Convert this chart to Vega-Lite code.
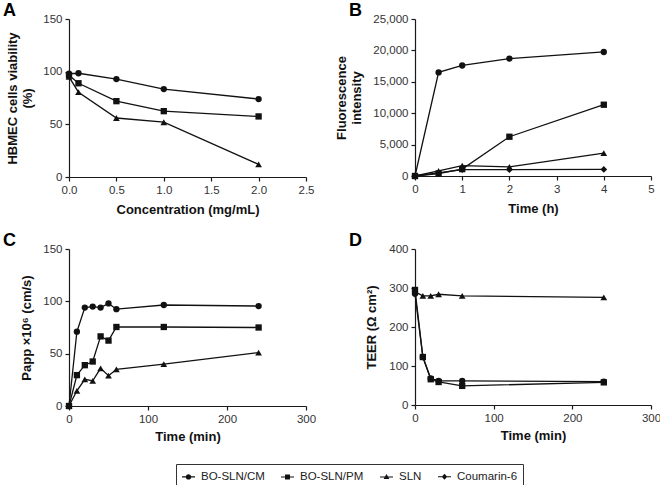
{
  "$schema": "https://vega.github.io/schema/vega-lite/v6.json",
  "autosize": {"type": "pad"},
  "padding": {"left": 3, "top": 2, "right": 0, "bottom": 0},
  "background": "white",
  "config": {
    "font": "Liberation Sans",
    "view": {"stroke": null},
    "axis": {"grid": false, "labelFlush": false, "domainColor": "#1a1a1a", "tickColor": "#1a1a1a", "labelColor": "#333333", "labelFontSize": 11.5, "labelFont": "Liberation Sans", "titleFontSize": 13, "titleFontWeight": "bold", "titleColor": "#111111", "titleFont": "Liberation Sans", "tickSize": 4, "labelPadding": 3, "domainWidth": 1.2, "tickWidth": 1.2},
    "title": {"anchor": "start", "frame": "group", "fontSize": 18, "fontWeight": "bold", "color": "#000000", "font": "Liberation Sans", "dx": -66, "dy": 11},
    "legend": {"title": null},
    "line": {"color": "#111111", "strokeWidth": 1.3},
    "point": {"filled": true, "color": "#111111", "size": 40, "opacity": 1}
  },
  "datasets": {
    "A": [
      {"series": "BO-SLN/CM", "x": 0, "y": 98}, {"series": "BO-SLN/CM", "x": 0.1, "y": 98.5}, {"series": "BO-SLN/CM", "x": 0.5, "y": 93}, {"series": "BO-SLN/CM", "x": 1, "y": 83.5}, {"series": "BO-SLN/CM", "x": 2, "y": 74},
      {"series": "BO-SLN/PM", "x": 0, "y": 96.5}, {"series": "BO-SLN/PM", "x": 0.1, "y": 89}, {"series": "BO-SLN/PM", "x": 0.5, "y": 72}, {"series": "BO-SLN/PM", "x": 1, "y": 62.5}, {"series": "BO-SLN/PM", "x": 2, "y": 57.5},
      {"series": "SLN", "x": 0, "y": 95}, {"series": "SLN", "x": 0.1, "y": 80.5}, {"series": "SLN", "x": 0.5, "y": 56}, {"series": "SLN", "x": 1, "y": 52}, {"series": "SLN", "x": 2, "y": 12}
    ],
    "B": [
      {"series": "BO-SLN/CM", "x": 0, "y": 0}, {"series": "BO-SLN/CM", "x": 0.5, "y": 16500}, {"series": "BO-SLN/CM", "x": 1, "y": 17600}, {"series": "BO-SLN/CM", "x": 2, "y": 18700}, {"series": "BO-SLN/CM", "x": 4, "y": 19750},
      {"series": "BO-SLN/PM", "x": 0, "y": 0}, {"series": "BO-SLN/PM", "x": 0.5, "y": 400}, {"series": "BO-SLN/PM", "x": 1, "y": 1100}, {"series": "BO-SLN/PM", "x": 2, "y": 6250}, {"series": "BO-SLN/PM", "x": 4, "y": 11350},
      {"series": "SLN", "x": 0, "y": 0}, {"series": "SLN", "x": 0.5, "y": 800}, {"series": "SLN", "x": 1, "y": 1650}, {"series": "SLN", "x": 2, "y": 1450}, {"series": "SLN", "x": 4, "y": 3650},
      {"series": "Coumarin-6", "x": 0, "y": 0}, {"series": "Coumarin-6", "x": 0.5, "y": 500}, {"series": "Coumarin-6", "x": 1, "y": 1000}, {"series": "Coumarin-6", "x": 2, "y": 1000}, {"series": "Coumarin-6", "x": 4, "y": 1050}
    ],
    "C": [
      {"series": "BO-SLN/CM", "x": 0, "y": 0}, {"series": "BO-SLN/CM", "x": 10, "y": 71}, {"series": "BO-SLN/CM", "x": 20, "y": 94}, {"series": "BO-SLN/CM", "x": 30, "y": 95}, {"series": "BO-SLN/CM", "x": 40, "y": 94}, {"series": "BO-SLN/CM", "x": 50, "y": 98}, {"series": "BO-SLN/CM", "x": 60, "y": 92.5}, {"series": "BO-SLN/CM", "x": 120, "y": 96.5}, {"series": "BO-SLN/CM", "x": 240, "y": 95.5},
      {"series": "BO-SLN/PM", "x": 0, "y": 0}, {"series": "BO-SLN/PM", "x": 10, "y": 29.5}, {"series": "BO-SLN/PM", "x": 20, "y": 39}, {"series": "BO-SLN/PM", "x": 30, "y": 42.5}, {"series": "BO-SLN/PM", "x": 40, "y": 66.5}, {"series": "BO-SLN/PM", "x": 50, "y": 62.5}, {"series": "BO-SLN/PM", "x": 60, "y": 75.5}, {"series": "BO-SLN/PM", "x": 120, "y": 75.5}, {"series": "BO-SLN/PM", "x": 240, "y": 75},
      {"series": "SLN", "x": 0, "y": 0}, {"series": "SLN", "x": 10, "y": 14.5}, {"series": "SLN", "x": 20, "y": 25.5}, {"series": "SLN", "x": 30, "y": 24}, {"series": "SLN", "x": 40, "y": 36}, {"series": "SLN", "x": 50, "y": 29}, {"series": "SLN", "x": 60, "y": 35}, {"series": "SLN", "x": 120, "y": 40}, {"series": "SLN", "x": 240, "y": 51}
    ],
    "D": [
      {"series": "BO-SLN/CM", "x": 0, "y": 285}, {"series": "BO-SLN/CM", "x": 10, "y": 123}, {"series": "BO-SLN/CM", "x": 20, "y": 68}, {"series": "BO-SLN/CM", "x": 30, "y": 62}, {"series": "BO-SLN/CM", "x": 60, "y": 62}, {"series": "BO-SLN/CM", "x": 240, "y": 60},
      {"series": "BO-SLN/PM", "x": 0, "y": 295}, {"series": "BO-SLN/PM", "x": 10, "y": 123}, {"series": "BO-SLN/PM", "x": 20, "y": 66}, {"series": "BO-SLN/PM", "x": 30, "y": 59}, {"series": "BO-SLN/PM", "x": 60, "y": 49}, {"series": "BO-SLN/PM", "x": 240, "y": 58},
      {"series": "SLN", "x": 0, "y": 290}, {"series": "SLN", "x": 10, "y": 280}, {"series": "SLN", "x": 20, "y": 280}, {"series": "SLN", "x": 30, "y": 284}, {"series": "SLN", "x": 60, "y": 280}, {"series": "SLN", "x": 240, "y": 276}
    ]
  },
  "columns": 2,
  "spacing": {"row": 72, "column": 109},
  "bounds": "flush",
  "concat": [
    {
      "width": 237, "height": 158,
      "title": {"text": "A"},
      "data": {"name": "A"},
      "encoding": {
        "x": {"field": "x", "type": "quantitative", "scale": {"domain": [0, 2.5], "nice": false, "zero": false}, "axis": {"values": [0, 0.5, 1, 1.5, 2, 2.5], "format": ".1f", "title": "Concentration (mg/mL)", "titlePadding": 8}},
        "y": {"field": "y", "type": "quantitative", "scale": {"domain": [0, 150], "nice": false}, "axis": {"values": [0, 50, 100, 150], "title": ["HBMEC cells viability", "(%)"], "titlePadding": 8}}
      },
      "layer": [
        {"mark": {"type": "line"}, "encoding": {"detail": {"field": "series"}}},
        {"transform": [{"filter": "datum.series === 'BO-SLN/CM'"}], "mark": {"type": "point", "shape": "circle"}},
        {"transform": [{"filter": "datum.series === 'BO-SLN/PM'"}], "mark": {"type": "point", "shape": "square"}},
        {"transform": [{"filter": "datum.series === 'SLN'"}], "mark": {"type": "point", "shape": "triangle-up", "size": 45}},
        {"mark": {"type": "point", "filled": true, "color": "#111111", "size": 0},
         "encoding": {"shape": {"field": "series", "type": "nominal",
           "scale": {"domain": ["BO-SLN/CM", "BO-SLN/PM", "SLN", "Coumarin-6"], "range": ["M-1,-0.08H1V0.08H-1ZM-0.42,0A0.42,0.42,0,1,1,0.42,0A0.42,0.42,0,1,1,-0.42,0Z", "M-1,-0.08H1V0.08H-1ZM-0.38,-0.38H0.38V0.38H-0.38Z", "M-1,-0.08H1V0.08H-1ZM0,-0.45L0.44,0.32H-0.44Z", "M-1,-0.08H1V0.08H-1ZM0,-0.45L0.42,0L0,0.45L-0.42,0Z"]},
           "legend": {"orient": "none", "legendX": 107, "legendY": 445, "direction": "horizontal", "strokeColor": "#333333", "padding": 5, "columnPadding": 13, "symbolSize": 169, "symbolOpacity": 1, "symbolFillColor": "#111111", "labelFontSize": 11.5, "labelColor": "#222222", "labelOffset": 5}}}}
      ]
    },
    {
      "width": 236, "height": 157,
      "title": {"text": "B"},
      "data": {"name": "B"},
      "encoding": {
        "x": {"field": "x", "type": "quantitative", "scale": {"domain": [0, 5], "nice": false}, "axis": {"values": [0, 1, 2, 3, 4, 5], "title": "Time (h)", "titlePadding": 8}},
        "y": {"field": "y", "type": "quantitative", "scale": {"domain": [0, 25000], "nice": false}, "axis": {"values": [0, 5000, 10000, 15000, 20000, 25000], "format": ",d", "title": ["Fluorescence", "intensity"], "titlePadding": 9}}
      },
      "layer": [
        {"mark": {"type": "line"}, "encoding": {"detail": {"field": "series"}}},
        {"transform": [{"filter": "datum.series === 'BO-SLN/CM'"}], "mark": {"type": "point", "shape": "circle"}},
        {"transform": [{"filter": "datum.series === 'BO-SLN/PM'"}], "mark": {"type": "point", "shape": "square"}},
        {"transform": [{"filter": "datum.series === 'SLN'"}], "mark": {"type": "point", "shape": "triangle-up", "size": 45}},
        {"transform": [{"filter": "datum.series === 'Coumarin-6'"}], "mark": {"type": "point", "shape": "diamond", "size": 45}}
      ]
    },
    {
      "width": 237, "height": 157,
      "title": {"text": "C"},
      "data": {"name": "C"},
      "encoding": {
        "x": {"field": "x", "type": "quantitative", "scale": {"domain": [0, 300], "nice": false}, "axis": {"values": [0, 100, 200, 300], "title": "Time (min)", "titlePadding": 6}},
        "y": {"field": "y", "type": "quantitative", "scale": {"domain": [0, 150], "nice": false}, "axis": {"values": [0, 50, 100, 150], "title": "Papp ×10⁶ (cm/s)", "titlePadding": 9}}
      },
      "layer": [
        {"mark": {"type": "line"}, "encoding": {"detail": {"field": "series"}}},
        {"transform": [{"filter": "datum.series === 'BO-SLN/CM'"}], "mark": {"type": "point", "shape": "circle"}},
        {"transform": [{"filter": "datum.series === 'BO-SLN/PM'"}], "mark": {"type": "point", "shape": "square"}},
        {"transform": [{"filter": "datum.series === 'SLN'"}], "mark": {"type": "point", "shape": "triangle-up", "size": 45}}
      ]
    },
    {
      "width": 236, "height": 156,
      "title": {"text": "D"},
      "data": {"name": "D"},
      "encoding": {
        "x": {"field": "x", "type": "quantitative", "scale": {"domain": [0, 300], "nice": false}, "axis": {"values": [0, 100, 200, 300], "title": "Time (min)", "titlePadding": 6}},
        "y": {"field": "y", "type": "quantitative", "scale": {"domain": [0, 400], "nice": false}, "axis": {"values": [0, 100, 200, 300, 400], "title": "TEER (Ω cm²)", "titlePadding": 10}}
      },
      "layer": [
        {"mark": {"type": "line"}, "encoding": {"detail": {"field": "series"}}},
        {"transform": [{"filter": "datum.series === 'BO-SLN/CM'"}], "mark": {"type": "point", "shape": "circle"}},
        {"transform": [{"filter": "datum.series === 'BO-SLN/PM'"}], "mark": {"type": "point", "shape": "square"}},
        {"transform": [{"filter": "datum.series === 'SLN'"}], "mark": {"type": "point", "shape": "triangle-up", "size": 45}}
      ]
    }
  ]
}
